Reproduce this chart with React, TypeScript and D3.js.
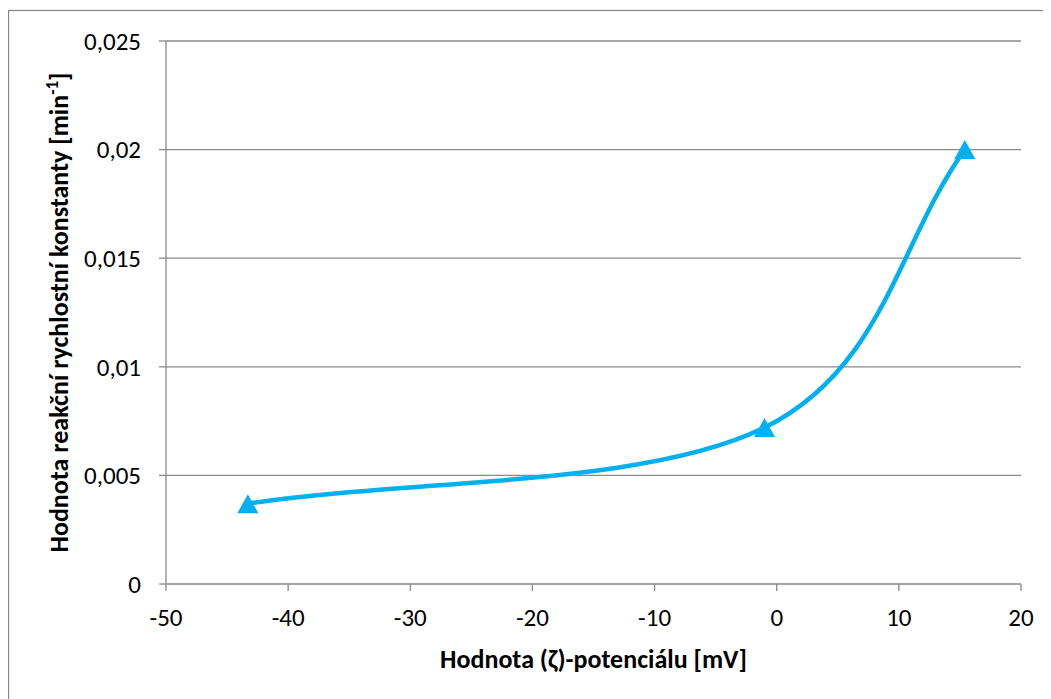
import * as d3 from "d3";

const zeta = [-43.3, -1.0, 15.4];
const rateK = [0.0037, 0.0072, 0.02];
const xTicks = [-50, -40, -30, -20, -10, 0, 10, 20];
const yTicks = [0, 0.005, 0.01, 0.015, 0.02, 0.025];

const W = 1043;
const H = 691;
const margin = { top: 33, right: 30, bottom: 115, left: 158 };
const font = "Carlito, Lato, 'Open Sans', sans-serif";
const axisColor = "#898989";
const lineColor = "#00B0F0";

// Excel-like smoothed line: Bezier, tangent (P[i+1]-P[i-1])/6, reflected end points
function smoothPath(p: [number, number][]) {
  const path = d3.path();
  const n = p.length;
  const get = (i: number): [number, number] => {
    if (i < 0) return [2 * p[0][0] - p[1][0], 2 * p[0][1] - p[1][1]];
    if (i >= n) return [2 * p[n - 1][0] - p[n - 2][0], 2 * p[n - 1][1] - p[n - 2][1]];
    return p[i];
  };
  path.moveTo(p[0][0], p[0][1]);
  for (let i = 0; i < n - 1; i++) {
    const a = get(i - 1), b = get(i), c = get(i + 1), d = get(i + 2);
    path.bezierCurveTo(
      b[0] + (c[0] - a[0]) / 6, b[1] + (c[1] - a[1]) / 6,
      c[0] - (d[0] - b[0]) / 6, c[1] - (d[1] - b[1]) / 6,
      c[0], c[1]
    );
  }
  return path.toString();
}

function triangle(cx: number, cy: number, w: number, h: number) {
  const path = d3.path();
  path.moveTo(cx, cy - h / 2);
  path.lineTo(cx + w / 2, cy + h / 2);
  path.lineTo(cx - w / 2, cy + h / 2);
  path.closePath();
  return path.toString();
}

export default function App() {
  const x = d3.scaleLinear().domain([-50, 20]).range([margin.left, W - margin.right]);
  const y = d3.scaleLinear().domain([0, 0.025]).range([H - margin.bottom, margin.top]);
  const pts = zeta.map((z, i) => [x(z), y(rateK[i])] as [number, number]);
  const fmt = (v: number) => String(v).replace(".", ",");
  const y0 = y(0);

  return (
    <svg width={W} height={H} style={{ display: "block", fontFamily: font }}>
      <rect x={0.5} y={2.5} width={W + 10} height={H + 10} fill="#fff" stroke={axisColor} strokeWidth={1.3} />
      {yTicks.slice(1).map(t => (
        <line key={t} x1={x(-50)} x2={x(20)} y1={y(t)} y2={y(t)} stroke={axisColor} strokeWidth={1.3} />
      ))}
      <line x1={x(-50)} x2={x(-50)} y1={y(0.025)} y2={y0} stroke={axisColor} strokeWidth={1.3} />
      <line x1={x(-50)} x2={x(20)} y1={y0} y2={y0} stroke={axisColor} strokeWidth={1.3} />
      {yTicks.map(t => (
        <g key={t}>
          <line x1={x(-50) - 7} x2={x(-50)} y1={y(t)} y2={y(t)} stroke={axisColor} strokeWidth={1.3} />
          <text x={x(-50) - 25} y={y(t)} dy="0.35em" textAnchor="end" fontSize={25} fill="#000">
            {fmt(t)}
          </text>
        </g>
      ))}
      {xTicks.map(t => (
        <g key={t}>
          <line x1={x(t)} x2={x(t)} y1={y0} y2={y0 + 7} stroke={axisColor} strokeWidth={1.3} />
          <text x={x(t)} y={y0 + 42} textAnchor="middle" fontSize={25} fill="#000">
            {t}
          </text>
        </g>
      ))}
      <path d={smoothPath(pts)} fill="none" stroke={lineColor} strokeWidth={4.5} />
      {pts.map((p, i) => (
        <path key={i} d={triangle(p[0], p[1], 21, 19)} fill={lineColor} />
      ))}
      <text x={(x(-50) + x(20)) / 2} y={H - 31} textAnchor="middle" fontSize={26} fontWeight="bold" fill="#000">
        Hodnota (ζ)-potenciálu [mV]
      </text>
      <text
        transform={`translate(60,${(y(0) + y(0.025)) / 2}) rotate(-90)`}
        textAnchor="middle"
        fontSize={26}
        fontWeight="bold"
        fill="#000"
      >
        Hodnota reakční rychlostní konstanty [min
        <tspan fontSize={17} dy={-10}>-1</tspan>
        <tspan dy={10}>]</tspan>
      </text>
    </svg>
  );
}
